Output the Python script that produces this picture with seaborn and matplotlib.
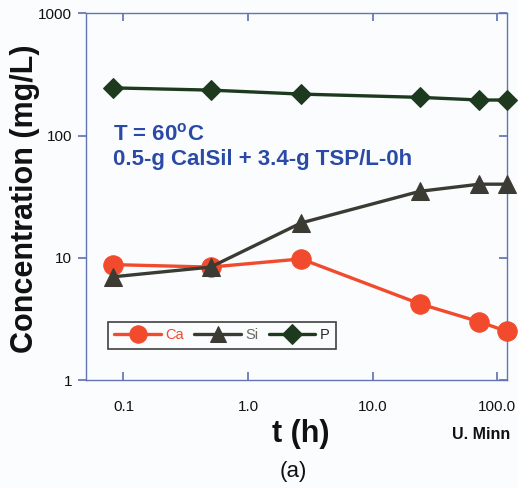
import matplotlib
matplotlib.use("Agg")
import matplotlib.pyplot as plt
import seaborn as sns
import pandas as pd
from matplotlib.ticker import FixedLocator, FixedFormatter, NullLocator

sns.set_theme(style="white")
plt.rcParams['font.family'] = ['Liberation Sans', 'DejaVu Sans']

time_h = [0.083, 0.5, 2.67, 24, 72, 120]
ca = [8.8, 8.4, 9.8, 4.2, 3.0, 2.5]
si = [7.0, 8.4, 19.3, 35, 40, 40]
p = [245, 235, 218, 205, 195, 195]

x_ticks = [0.1, 1.0, 10.0, 100.0]
x_tick_labels = ["0.1", "1.0", "10.0", "100.0"]
y_ticks = [1, 10, 100, 1000]
y_tick_labels = ["1", "10", "100", "1000"]

series_names = ["Ca", "Si", "P"]
colors = {"Ca": "#f24a2c", "Si": "#3b3b34", "P": "#1e3a1e"}
markers = {"Ca": "o", "Si": "^", "P": "D"}
msizes = {"Ca": 14, "Si": 13, "P": 10.5}
leg_msizes = {"Ca": 12.5, "Si": 12, "P": 10}
label_colors = {"Ca": "#f24a2c", "Si": "#6a6a60", "P": "#2a2a22"}

df = pd.DataFrame({
    "t": time_h * 3,
    "conc": ca + si + p,
    "elem": ["Ca"] * len(time_h) + ["Si"] * len(time_h) + ["P"] * len(time_h),
})

bg = "#fafcfd"
fig = plt.figure(figsize=(5.18, 4.88), dpi=100, facecolor=bg)
ax = fig.add_axes([0.166, 0.221, 0.813, 0.752])
ax.set_facecolor(bg)

for name in series_names:
    sub = df[df.elem == name]
    sns.lineplot(data=sub, x="t", y="conc", ax=ax, color=colors[name],
                 marker=markers[name], markersize=msizes[name],
                 markeredgecolor=colors[name], linewidth=2.4,
                 label=name, clip_on=False, zorder=3)

ax.set_xscale("log")
ax.set_yscale("log")
ax.set_xlim(0.05, 120)
ax.set_ylim(1, 1000)

ax.xaxis.set_major_locator(FixedLocator(x_ticks))
ax.xaxis.set_major_formatter(FixedFormatter(x_tick_labels))
ax.xaxis.set_minor_locator(NullLocator())
ax.yaxis.set_major_locator(FixedLocator(y_ticks))
ax.yaxis.set_major_formatter(FixedFormatter(y_tick_labels))
ax.yaxis.set_minor_locator(NullLocator())

spine_color = "#6274b4"
for s in ax.spines.values():
    s.set_color(spine_color)
    s.set_linewidth(1.0)

ax.tick_params(axis="x", which="major", direction="in", top=True, bottom=True,
               length=6, color=spine_color, labelsize=11, pad=14, labelcolor="#111111")
ax.tick_params(axis="y", which="major", direction="out", left=True, length=6,
               color=spine_color, labelsize=11, pad=4, labelcolor="#111111")
ax.tick_params(axis="y", which="major", right=True)
for tl in ax.yaxis.get_major_ticks():
    tl.tick2line.set_marker(matplotlib.lines.TICKLEFT)

ax.set_xlabel("t (h)", fontsize=22, fontweight="bold", color="#111111")
ax.xaxis.label.set_va("center")
ax.xaxis.set_label_coords(0.511, -0.147)
ax.set_ylabel("Concentration (mg/L)", fontsize=22, fontweight="bold", color="#111111")
ax.yaxis.label.set_va("center")
ax.yaxis.set_label_coords(-0.145, 0.493)

ax.text(0.064, 0.670, "T = 60$^\\mathregular{o}$C", transform=ax.transAxes,
        fontsize=16, fontweight="bold", color="#2b4aa6", ha="left", va="center")
ax.text(0.064, 0.600, "0.5-g CalSil + 3.4-g TSP/L-0h", transform=ax.transAxes,
        fontsize=16, fontweight="bold", color="#2b4aa6", ha="left", va="center")

leg = ax.legend(loc="lower left", bbox_to_anchor=(0.052, 0.085), ncol=3,
                fontsize=10.5, frameon=True, fancybox=False, edgecolor="#111111",
                handlelength=3.2, columnspacing=0.7, handletextpad=0.3,
                borderpad=0.45, borderaxespad=0)
leg.get_frame().set_linewidth(1.2)
leg.get_frame().set_facecolor(bg)
for txt in leg.get_texts():
    txt.set_color(label_colors[txt.get_text()])
for h, name in zip(leg.legend_handles, series_names):
    h.set_markersize(leg_msizes[name])

fig.text(0.985, 0.109, "U. Minn", fontsize=11.5, fontweight="bold", ha="right", va="center", color="#111111")
fig.text(0.566, 0.033, "(a)", fontsize=16, ha="center", va="center", color="#111111")

fig.savefig("out.png", dpi=100, facecolor=bg)
